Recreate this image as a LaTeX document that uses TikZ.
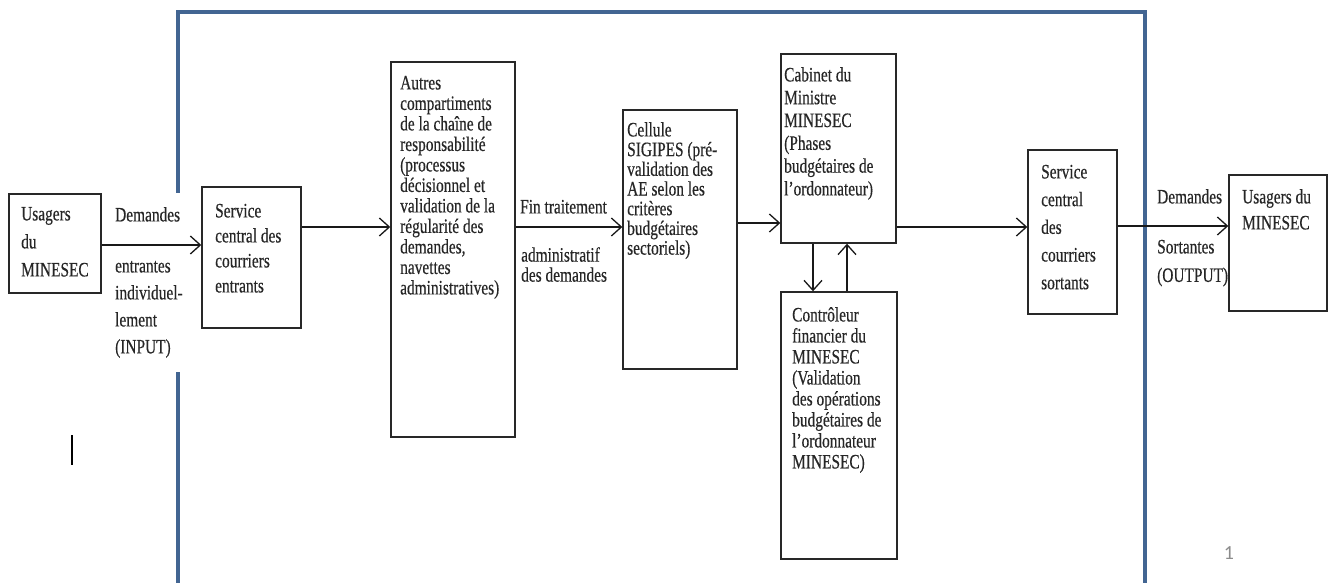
\documentclass[tikz,border=0pt]{standalone}
\usepackage{fontspec}
\newfontfamily\cfont[FakeStretch=0.75,FakeBold=0.4]{Liberation Serif}
\newfontfamily\nfont{Carlito}
\usetikzlibrary{arrows.meta}
\definecolor{frameblue}{RGB}{66,101,146}
\definecolor{boxline}{RGB}{40,40,40}
\begin{document}
\begin{tikzpicture}[x=1pt,y=-1pt,
  box/.style={draw=boxline, line width=1.4pt, rectangle, inner sep=0pt},
  txt/.style={anchor=north west, inner sep=0pt, align=left, text=black!85, font=\cfont\fontsize{20.5}{#1}\selectfont},
  txt/.default=21,
  arr/.style={draw=black!90, line width=1.3pt, -{Straight Barb[length=10pt,width=18pt]}},
  frame/.style={draw=frameblue, line width=4pt}]
\useasboundingbox (0,0) rectangle (1334,583);

% outer frame
\draw[frame] (178,193) -- (178,12) -- (1145,12) -- (1145,583);
\draw[frame] (178,372) -- (178,583);

% boxes
\node[box, minimum width=92pt,  minimum height=99pt]  (b1) at (55,243.5) {};
\node[box, minimum width=99pt,  minimum height=141pt] (b2) at (251.5,257.5) {};
\node[box, minimum width=124pt, minimum height=375pt] (b3) at (453,249.5) {};
\node[box, minimum width=114pt, minimum height=259pt] (b4) at (680,239.5) {};
\node[box, minimum width=115pt, minimum height=189pt] (b5) at (838.5,148.5) {};
\node[box, minimum width=116pt, minimum height=267pt] (b6) at (839,425.5) {};
\node[box, minimum width=89pt,  minimum height=164pt] (b7) at (1072.5,232) {};
\node[box, minimum width=98pt,  minimum height=136pt] (b8) at (1278,243) {};

% box texts
\node[txt=28] (t1) at (21,206) {\vphantom{l}Usagers\\du\\MINESEC};
\node[txt=25] (t2) at (215,203) {\vphantom{l}Service\\central des\\courriers\\entrants};
\node[txt=20.5] (t3) at (400,75) {\vphantom{l}Autres\\compartiments\\de la chaîne de\\responsabilité\\(processus\\décisionnel et\\validation de la\\régularité des\\demandes,\\navettes\\administratives)};
\node[txt=19.7] (t4) at (627,122) {\vphantom{l}Cellule\\SIGIPES (pré-\\validation des\\AE selon les\\critères\\budgétaires\\sectoriels)};
\node[txt=22.8] (t5) at (784,67) {\vphantom{l}Cabinet du\\Ministre\\MINESEC\\(Phases\\budgétaires de\\l’ordonnateur)};
\node[txt=21] (t6) at (792,307) {\vphantom{l}Contrôleur\\financier du\\MINESEC\\(Validation\\des opérations\\budgétaires de\\l’ordonnateur\\MINESEC)};
\node[txt=27.7] (t7) at (1041,164) {\vphantom{l}Service\\central\\des\\courriers\\sortants};
\node[txt=26] (t8) at (1242,189) {\vphantom{l}Usagers du\\MINESEC};

% arrow labels
\node[txt] (l1) at (115,207) {\vphantom{l}Demandes};
\node[txt=27] (l2) at (115,258) {\vphantom{l}entrantes\\individuel-\\lement\\(INPUT)};
\node[txt] (l3) at (520,199) {\vphantom{l}Fin traitement};
\node[txt=20] (l4) at (521,247) {\vphantom{l}administratif\\des demandes};
\node[txt] (l5) at (1157,189) {\vphantom{l}Demandes};
\node[txt=28.5] (l6) at (1157,239) {\vphantom{l}Sortantes\\(OUTPUT)};

% connectors
\draw[arr] ([yshift=-1.5pt]b1.east) coordinate (c1) -- (c1 -| b2.west);
\draw[arr] ([yshift=30.5pt]b2.east) coordinate (c2) -- (c2 -| b3.west);
\draw[arr] ([yshift=22.5pt]b3.east) coordinate (c3) -- (c3 -| b4.west);
\draw[arr] ([yshift=16.5pt]b4.east) coordinate (c4) -- (c4 -| b5.west);
\draw[arr] ([xshift=-25.5pt]b5.south) coordinate (c5) -- (c5 |- b6.north);
\draw[arr] ([xshift=8pt]b6.north) coordinate (c6) -- (c6 |- b5.south);
\draw[arr] ([yshift=-78.5pt]b5.east) coordinate (c7) -- (c7 -| b7.west);
\draw[arr] ([yshift=6pt]b7.east) coordinate (c8) -- (c8 -| b8.west);

% stray mark and page number
\draw[black, line width=1.3pt] (72,435) -- (72,465);
\node[font=\nfont\fontsize{20}{24}\selectfont, text=black!45, inner sep=0pt] (pg) at (1229,553) {1};
\end{tikzpicture}
\end{document}
